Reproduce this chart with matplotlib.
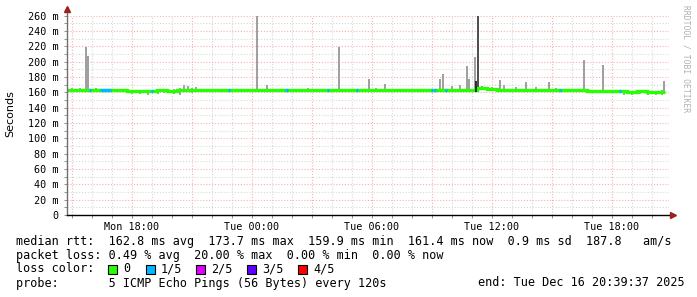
import numpy as np
import matplotlib
matplotlib.use("Agg")
import matplotlib.pyplot as plt
from matplotlib.ticker import MultipleLocator, FuncFormatter
from matplotlib.patches import Rectangle

# ---- data (hours since Mon 00:00) ----
t_start, t_end = 14.75, 44.85
med_edges = [14.75, 15.25, 15.75, 16.25, 16.75, 17.25, 17.75, 18.25, 18.75, 19.25,
             19.75, 20.25, 20.75, 21.25, 21.75, 22.25, 22.75, 23.25, 23.75, 24.25,
             24.75, 25.25, 25.75, 26.25, 26.75, 27.25, 27.75, 28.25, 28.75, 29.25,
             29.75, 30.25, 30.75, 31.25, 31.75, 32.25, 32.75, 33.25, 33.75, 34.25,
             34.75, 35.25, 35.75, 36.25, 36.75, 37.25, 37.75, 38.25, 38.75, 39.25,
             39.75, 40.25, 40.75, 41.25, 41.75, 42.25, 42.75, 43.25, 43.75, 44.25,
             44.65]
med_vals = [163, 163, 163, 163, 163, 162.5, 162, 162, 162, 162.5,
            162, 163, 162.5, 163, 163, 163, 162.5, 163, 163, 163,
            163, 163, 162.5, 163, 163, 163, 162.5, 163, 163, 163,
            163, 163, 163, 162.5, 163, 163, 163, 163, 163, 163,
            163, 165, 164, 163, 163, 163, 163, 163, 163, 163,
            162.5, 162.5, 162, 162, 161.5, 161, 160.5, 161, 160.5, 160]

# 1/5 loss periods (start, end)
loss_1of5 = [(15.85, 15.95), (16.4, 16.95), (18.95, 19.05), (22.8, 22.9),
             (25.65, 25.8), (27.75, 27.85), (29.2, 29.3), (32.95, 33.05),
             (33.1, 33.2), (33.65, 33.75), (39.35, 39.45), (42.35, 42.45)]

# smoke spikes (time, low, high)
spike_t = [15.7, 15.8, 24.25, 24.75, 28.35, 29.85, 30.65, 33.4, 33.55, 34.75,
           34.85, 35.15, 35.5, 36.4, 37.7, 38.85, 40.6, 41.55, 44.6]
spike_lo = [163, 163, 163, 163, 163, 163, 163, 163, 163, 163,
            163, 163, 163, 163, 163, 163, 163, 163, 160]
spike_hi = [219, 207, 260, 169, 219, 177, 171, 177, 184, 194,
            177, 206, 168, 176, 173, 173, 202, 195, 175]

# small smoke around the median
noise_t = [15.0, 15.4, 16.2, 18.0, 18.4, 18.8, 19.3, 19.6, 20.1, 20.4,
           20.6, 20.8, 21.0, 21.2, 26.8, 30.2, 34.0, 34.4, 36.0, 36.6,
           37.2, 38.2, 39.2, 42.6, 43.0, 43.4, 43.8, 44.2, 44.5]
noise_lo = [161, 161, 161, 158, 158, 157, 158, 159, 158, 157,
            160, 160, 159, 160, 161, 161, 163, 163, 163, 163,
            163, 163, 163, 157, 157, 158, 156, 157, 157]
noise_hi = [166, 165, 166, 163, 163, 163, 164, 164, 164, 166,
            170, 168, 165, 167, 165, 165, 168, 170, 167, 169,
            167, 167, 166, 163, 162, 163, 162, 162, 163]

# dark smoke bar (high loss / large spread)
dark_t, dark_lo, dark_hi = 35.3, 160, 260

loss_colors = ["#26ff00", "#00b8ff", "#dd00ff", "#5e00ff", "#ff0000"]
loss_labels = ["0", "1/5", "2/5", "3/5", "4/5"]

W, H = 697, 297
fig = plt.figure(figsize=(W / 100, H / 100), dpi=100)
fig.patch.set_facecolor("white")
ax = fig.add_axes([67 / W, (H - 215) / H, 602 / W, 199.5 / H])
ax.set_facecolor("white")

mono = "DejaVu Sans Mono"

# ---- smoke ----
ax.bar(noise_t, np.array(noise_hi) - np.array(noise_lo), bottom=noise_lo,
       width=0.1, color="#a6a6a6", linewidth=0, zorder=3)
ax.bar(spike_t, np.array(spike_hi) - np.array(spike_lo), bottom=spike_lo,
       width=0.1, color="#a0a0a0", linewidth=0, zorder=3)
ax.bar([dark_t], [dark_hi - dark_lo], bottom=[dark_lo], width=0.1,
       color="#505050", linewidth=0, zorder=3)

# ---- median line ----
ax.stairs(med_vals, med_edges, color=loss_colors[0], linewidth=2.4,
          baseline=None, zorder=4)
for s, e in loss_1of5:
    i = np.searchsorted(med_edges, s, side="right") - 1
    ax.hlines(med_vals[i], s, e, color=loss_colors[1], linewidth=2.4, zorder=5)
ax.vlines(35.22, 160, 174, color="#101010", linewidth=1.2, zorder=5)

# ---- axes / grid ----
ax.set_xlim(t_start, t_end)
ax.set_ylim(0, 260)
ax.yaxis.set_major_locator(MultipleLocator(20))
ax.yaxis.set_minor_locator(MultipleLocator(10))
ax.xaxis.set_major_locator(MultipleLocator(3))
ax.xaxis.set_minor_locator(MultipleLocator(1))
ax.yaxis.set_major_formatter(FuncFormatter(lambda v, p: "0" if v == 0 else f"{v:.0f} m"))

def xfmt(v, p):
    h = int(round(v))
    if h % 6:
        return ""
    day = "Mon" if h < 24 else "Tue"
    return f"{day} {h % 24:02d}:00"

ax.xaxis.set_major_formatter(FuncFormatter(xfmt))
ax.grid(which="major", color="#f3b3b3", linestyle=(0, (1, 1.6)), linewidth=0.8)
ax.grid(which="minor", color="#d8d8d8", linestyle=(0, (1, 1.6)), linewidth=0.8)
ax.set_axisbelow(True)

for sp in ax.spines.values():
    sp.set_visible(False)
ax.tick_params(which="both", length=2, width=0.7, color="#909090")
ax.tick_params(axis="y", labelsize=7.3, pad=4)
ax.tick_params(axis="x", labelsize=7.3, pad=3)
for lab in ax.get_xticklabels() + ax.get_yticklabels():
    lab.set_fontfamily(mono)

# axis lines with arrows
ax.plot([0, 0], [0, 1.03], transform=ax.transAxes, color="#707070",
        linewidth=1.0, clip_on=False, zorder=6)
ax.plot([0, 1.005], [0, 0], transform=ax.transAxes, color="black",
        linewidth=1.0, clip_on=False, zorder=6)
ax.plot([0], [1.035], transform=ax.transAxes, marker="^", markersize=4,
        color="#a02020", clip_on=False, zorder=7)
ax.plot([1.006], [0], transform=ax.transAxes, marker=">", markersize=4,
        color="#a02020", clip_on=False, zorder=7)

fig.text(10 / W, 1 - 114 / H, "Seconds", rotation=90, ha="center", va="center",
         fontsize=8, family="DejaVu Sans")
fig.text(686 / W, 1 - 5 / H, "RRDTOOL / TOBI OETIKER", rotation=-90,
         ha="center", va="top", fontsize=5.8, family=mono, color="#b0b0b0")

# ---- legend block ----
def line(y, s, x=16, **kw):
    fig.text(x / W, 1 - y / H, s, ha="left", va="center", fontsize=8.5,
             family=mono, **kw)

line(241, "median rtt:  162.8 ms avg  173.7 ms max  159.9 ms min  161.4 ms now  0.9 ms sd  187.8   am/s")
line(255, "packet loss: 0.49 % avg  20.00 % max  0.00 % min  0.00 % now")
line(269, "loss color:")
box_x = [108, 146, 196, 247, 298]
for bx, c, lab in zip(box_x, loss_colors, loss_labels):
    fig.patches.append(Rectangle((bx / W, 1 - 273.5 / H), 8.5 / W, 8.5 / H,
                                 transform=fig.transFigure, facecolor=c,
                                 edgecolor="black", linewidth=0.8))
    line(269, lab, x=bx + 15)
line(283, "probe:       5 ICMP Echo Pings (56 Bytes) every 120s")
line(283, "end: Tue Dec 16 20:39:37 2025", x=478)

plt.savefig("out.png", dpi=100, facecolor="white")
plt.close()
